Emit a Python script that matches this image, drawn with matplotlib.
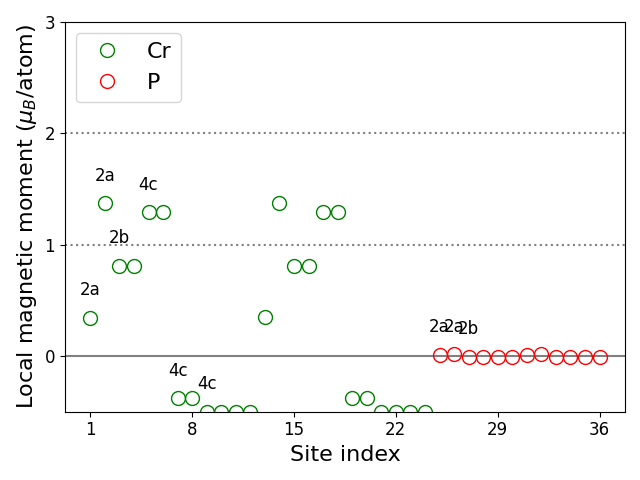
import numpy as np
import matplotlib
matplotlib.use("Agg")
import matplotlib.pyplot as plt

# ---- DATA ----
cr_sites = list(range(1, 25))
cr_moments = [0.34, 1.37, 0.81, 0.81, 1.29, 1.29, -0.38, -0.38,
              -0.50, -0.50, -0.50, -0.50,
              0.35, 1.37, 0.81, 0.81, 1.29, 1.29, -0.38, -0.38,
              -0.50, -0.50, -0.50, -0.50]
p_sites = list(range(25, 37))
p_moments = [0.01, 0.015, -0.01, -0.01, -0.01, -0.01,
             0.01, 0.015, -0.01, -0.01, -0.01, -0.01]

# wyckoff labels (site, label)
label_sites = [1, 2, 3, 5, 7, 9, 25, 26, 27]
label_text = ["2a", "2a", "2b", "4c", "4c", "4c", "2a", "2a", "2b"]

xticks = [1, 8, 15, 22, 29, 36]

# ---- PLOT ----
fig, ax = plt.subplots(figsize=(6.4, 4.8), dpi=100)

ax.axhline(0, color="gray", linewidth=1.5)
ax.axhline(1, color="gray", linestyle=":", linewidth=1.5)
ax.axhline(2, color="gray", linestyle=":", linewidth=1.5)

ax.plot(cr_sites, cr_moments, "o", markersize=10, markerfacecolor="none",
        markeredgecolor="green", label="Cr")
ax.plot(p_sites, p_moments, "o", markersize=10, markerfacecolor="none",
        markeredgecolor="red", label="P")

all_sites = cr_sites + p_sites
all_moments = cr_moments + p_moments
for s, t in zip(label_sites, label_text):
    m = all_moments[all_sites.index(s)]
    ax.text(s, m + 0.25, t, ha="center", va="center", fontsize=12)

ax.set_ylim(-0.5, 3)
ax.set_yticks([0, 1, 2, 3])
ax.set_xticks(xticks)
ax.tick_params(labelsize=12)
ax.set_xlabel("Site index", fontsize=16)
ax.set_ylabel(r"Local magnetic moment ($\mu_B$/atom)", fontsize=16)
ax.legend(loc="upper left", fontsize=16)

plt.tight_layout()
plt.savefig("out.png", dpi=100)
